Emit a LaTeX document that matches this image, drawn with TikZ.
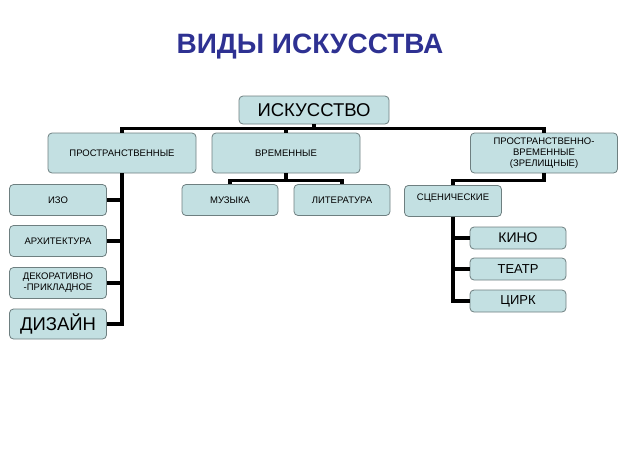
\documentclass[tikz,border=0pt]{standalone}
\usepackage{fontspec}
\setmainfont{Liberation Sans}
\usetikzlibrary{positioning}
\definecolor{boxfill}{HTML}{C3E0E2}
\definecolor{boxline}{HTML}{6E7F80}
\definecolor{titleblue}{HTML}{2E3192}
\tikzset{
  box/.style={draw=boxline, fill=boxfill, rounded corners=4pt, line width=0.8pt, align=center, inner sep=1pt},
  small/.style={box, font=\fontsize{9.5}{11}\selectfont},
  big/.style={box, font=\fontsize{18.5}{20}\selectfont},
  link/.style={line width=3.5pt}
}
\begin{document}
\begin{tikzpicture}[x=1pt,y=-1pt]
    \useasboundingbox (0,0) rectangle (626,453);
    \node[font=\bfseries\fontsize{28}{30}\selectfont, text=titleblue] (title) at (310,47) {ВИДЫ ИСКУССТВА};
    \node[big, minimum width=150pt, minimum height=28pt] (art) at (314,110) {ИСКУССТВО};
    \node[small, minimum width=148pt, minimum height=40pt] (space) at (122,153) {ПРОСТРАНСТВЕННЫЕ};
    \node[small, minimum width=148pt, minimum height=40pt] (time) at (286,153) {ВРЕМЕННЫЕ};
    \node[small, minimum width=147pt, minimum height=40pt] (spectac) at (544,153) {ПРОСТРАНСТВЕННО-\\ВРЕМЕННЫЕ\\(ЗРЕЛИЩНЫЕ)};
    \node[small, minimum width=97pt, minimum height=31pt] (izo) at (58,200) {ИЗО};
    \node[small, minimum width=97pt, minimum height=31pt] (arch) at (58,241) {АРХИТЕКТУРА};
    \node[small, minimum width=97pt, minimum height=31pt] (decor) at (58,283) {ДЕКОРАТИВНО\\-ПРИКЛАДНОЕ};
    \node[big, minimum width=97pt, minimum height=30pt] (design) at (58,324) {ДИЗАЙН};
    \node[small, minimum width=96pt, minimum height=31pt] (music) at (230,200) {МУЗЫКА};
    \node[small, minimum width=96pt, minimum height=31pt] (lit) at (342,200) {ЛИТЕРАТУРА};
    \node[small, minimum width=97pt, minimum height=31pt, anchor=north] (stage) at (453,185) {\raisebox{8pt}{СЦЕНИЧЕСКИЕ}};
    \node[box, font=\fontsize{14}{16}\selectfont, minimum width=96pt, minimum height=22pt] (cinema) at (518,238) {КИНО};
    \node[box, font=\fontsize{13}{15}\selectfont, minimum width=96pt, minimum height=22pt] (theatre) at (518,269) {ТЕАТР};
    \node[box, font=\fontsize{13}{15}\selectfont, minimum width=96pt, minimum height=22pt] (circus) at (518,301) {ЦИРК};
    % links
    \draw[link] (art.south) -- ++(0,4) coordinate (bus);
    \draw[link] (space.north) |- (bus) -| (spectac.north);
    \draw[link] (time.north) -- (time.north |- bus);
    \draw[link] (space.south) -- (space.south |- design.east) -- (design.east);
    \foreach \n in {izo,arch,decor}
        \draw[link] (\n.east) -- (\n.east -| space.south);
    \draw[link] (time.south) -- ++(0,7) coordinate (tbus);
    \draw[link] (music.north) |- (tbus) -| (lit.north);
    \draw[link] (spectac.south) -- ++(0,7) -| (stage.north);
    \draw[link] (stage.south) -- (stage.south |- circus.west) -- (circus.west);
    \foreach \n in {cinema,theatre}
        \draw[link] (\n.west) -- (\n.west -| stage.south);
\end{tikzpicture}
\end{document}
